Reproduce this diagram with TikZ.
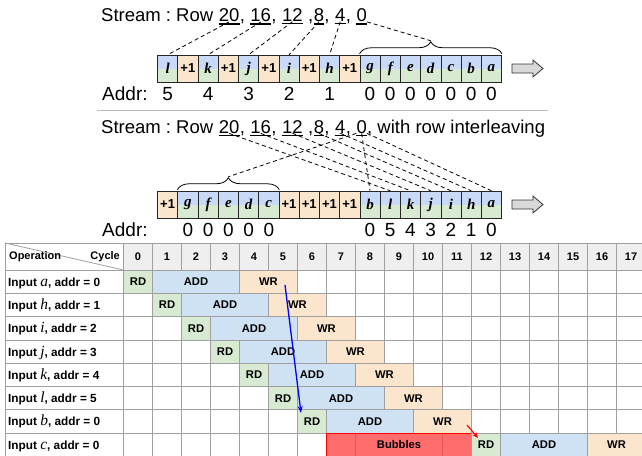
\documentclass[tikz,border=0pt]{standalone}
\usepackage{fontspec}
\setmainfont{Liberation Sans}
\newfontfamily\letterfont{Liberation Serif}
\frenchspacing
\usetikzlibrary{positioning,calc,arrows.meta,decorations.pathreplacing}
\definecolor{BoxBlue}{HTML}{C9DAF8}
\definecolor{CellBlue}{HTML}{CFE2F3}
\definecolor{CellGreen}{HTML}{D9EAD3}
\definecolor{CellOrange}{HTML}{FCE5CD}
\definecolor{HeadGray}{HTML}{EFEFEF}
\definecolor{GridGray}{HTML}{A0A0A0}
\definecolor{SepGray}{HTML}{BDBDBD}
\definecolor{BubbleRed}{HTML}{FF6D6D}
\definecolor{BubbleLine}{HTML}{E05A5A}
\definecolor{ArrowGray}{HTML}{D9D9D9}
\tikzset{
  lbox/.style={draw=black!85,fill=CellGreen,line width=0.7pt,
               minimum width=20.24pt,minimum height=26.8pt,inner sep=0pt,
               font=\letterfont\bfseries\itshape\fontsize{15}{15}\selectfont,
               path picture={\fill[BoxBlue] (path picture bounding box.north west)
                             rectangle (path picture bounding box.east);}},
  pbox/.style={draw=black!85,fill=CellOrange,line width=0.7pt,
               minimum width=20.24pt,minimum height=26.8pt,inner sep=0pt,
               font=\bfseries\fontsize{13}{13}\selectfont},
  strtxt/.style={inner sep=0pt,anchor=base west,font=\fontsize{18.5}{20}\selectfont},
  addrtxt/.style={inner sep=0pt,anchor=base west,font=\fontsize{19}{21}\selectfont},
  addrnum/.style={inner sep=0pt,anchor=base,font=\fontsize{19}{21}\selectfont},
  uline/.style={line width=1.3pt},
  dashln/.style={dash pattern=on 4pt off 3pt,line width=0.8pt},
  bracedec/.style={decorate,decoration={brace,amplitude=12pt,raise=1pt},line width=0.8pt},
  blockarr/.style={draw=black!80,fill=ArrowGray,line width=0.8pt},
  cell/.style={draw=GridGray,line width=0.8pt,minimum height=23.3pt,inner sep=0pt,
               font=\bfseries\fontsize{11.2}{13}\selectfont},
  rdcell/.style={cell,fill=CellGreen,minimum width=29pt},
  addcell/.style={cell,fill=CellBlue,minimum width=87pt},
  wrcell/.style={cell,fill=CellOrange,minimum width=58pt},
  bubcell/.style={cell,draw=red,fill=BubbleRed,line width=1pt,minimum width=145pt},
  headnum/.style={inner sep=0pt,font=\bfseries\fontsize{11}{13}\selectfont},
  rowlab/.style={inner sep=0pt,anchor=base west,font=\bfseries\fontsize{11.8}{13}\selectfont},
  gridln/.style={draw=GridGray,line width=0.8pt},
}
\newcommand{\rowletter}[1]{{\letterfont\mdseries\itshape\fontsize{15.5}{15}\selectfont #1}}

\begin{document}
\begin{tikzpicture}[x=1pt,y=-1pt]
    \useasboundingbox (0,0) rectangle (642,455);

    % Top stream
    \node[strtxt] (s1) at (101,21.5) {Stream : Row\ \null};
    \node[strtxt] (t20) at (s1.base east) {20};
    \node[strtxt] (s2) at (t20.base east) {,\ \null};
    \node[strtxt] (t16) at (s2.base east) {16};
    \node[strtxt] (s3) at (t16.base east) {,\ \null};
    \node[strtxt] (t12) at (s3.base east) {12};
    \node[strtxt] (s4) at (t12.base east) {\ ,};
    \node[strtxt] (t8) at (s4.base east) {8};
    \node[strtxt] (s5) at (t8.base east) {,\ \null};
    \node[strtxt] (t4) at (s5.base east) {4};
    \node[strtxt] (s6) at (t4.base east) {,\ \null};
    \node[strtxt] (t0) at (s6.base east) {0};

    \foreach \nm/\lab/\sty [count=\i] in {tl/l/lbox,tp1/+1/pbox,tk/k/lbox,tp2/+1/pbox,
        tj/j/lbox,tp3/+1/pbox,ti/i/lbox,tp4/+1/pbox,th/h/lbox,tp5/+1/pbox,
        tg/g/lbox,tf/f/lbox,te/e/lbox,td/d/lbox,tc/c/lbox,tb/b/lbox,ta/a/lbox}
        \node[\sty] (\nm) at ({157.5+20.24*(\i-0.5)},68.5) {\lab};

    \node[addrtxt] (addrA) at (102,100) {Addr:};
    \foreach \nm/\v in {tl/5,tk/4,tj/3,ti/2,th/1,tg/0,tf/0,te/0,td/0,tc/0,tb/0,ta/0}
        \node[addrnum] (n\nm) at (\nm.center |- addrA.base) {\v};

    \draw[bracedec] (tg.north west) -- (ta.north east);
    \coordinate (topTip) at ($(tg.north west)!0.5!(ta.north east)+(0,-14)$);
    \coordinate (arrTop) at ([xshift=10pt]ta.east);
    \draw[blockarr] (arrTop) ++(0,-4.5) -- ++(21,0) -- ++(0,-4) -- ++(10,8.5)
        -- ++(-10,8.5) -- ++(0,-4) -- ++(-21,0) -- cycle;

    \foreach \n in {t20,t16,t12,t8,t4,t0}
        \draw[uline] ([yshift=-2pt]\n.south west) -- ([yshift=-2pt]\n.south east);
    \draw[dashln] (t20.south) -- (tl.north);
    \draw[dashln] (t16.south) -- (tk.north);
    \draw[dashln] (t12.south) -- (tj.north);
    \draw[dashln] (t8.south) -- (ti.north);
    \draw[dashln] (t4.south) -- (th.north);
    \draw[dashln] (t0.south east) -- (topTip);

    \draw[SepGray,line width=1.5pt] (97,110.5) -- (548,110.5);

    % Stream with row interleaving
    \node[strtxt] (r1) at (101,133) {Stream : Row\ \null};
    \node[strtxt] (m20) at (r1.base east) {20};
    \node[strtxt] (r2) at (m20.base east) {,\ \null};
    \node[strtxt] (m16) at (r2.base east) {16};
    \node[strtxt] (r3) at (m16.base east) {,\ \null};
    \node[strtxt] (m12) at (r3.base east) {12};
    \node[strtxt] (r4) at (m12.base east) {\ ,};
    \node[strtxt] (m8) at (r4.base east) {8};
    \node[strtxt] (r5) at (m8.base east) {,\ \null};
    \node[strtxt] (m4) at (r5.base east) {4};
    \node[strtxt] (r6) at (m4.base east) {,\ \null};
    \node[strtxt] (m0) at (r6.base east) {0};
    \node[strtxt] (r7) at (m0.base east) {, with row interleaving};

    \foreach \nm/\lab/\sty [count=\i] in {mp1/+1/pbox,mg/g/lbox,mf/f/lbox,me/e/lbox,
        md/d/lbox,mc/c/lbox,mp2/+1/pbox,mp3/+1/pbox,mp4/+1/pbox,mp5/+1/pbox,
        mb/b/lbox,ml/l/lbox,mk/k/lbox,mj/j/lbox,mi/i/lbox,mh/h/lbox,ma/a/lbox}
        \node[\sty] (\nm) at ({157.5+20.24*(\i-0.5)},204.5) {\lab};

    \node[addrtxt] (addrB) at (102,236) {Addr:};
    \foreach \nm/\v in {mg/0,mf/0,me/0,md/0,mc/0,mb/0,ml/5,mk/4,mj/3,mi/2,mh/1,ma/0}
        \node[addrnum] (n\nm) at (\nm.center |- addrB.base) {\v};

    \draw[bracedec] (mg.north west) -- (mc.north east);
    \coordinate (midTip) at ($(mg.north west)!0.5!(mc.north east)+(0,-14)$);
    \coordinate (arrMid) at ([xshift=10pt]ma.east);
    \draw[blockarr] (arrMid) ++(0,-4.5) -- ++(21,0) -- ++(0,-4) -- ++(10,8.5)
        -- ++(-10,8.5) -- ++(0,-4) -- ++(-21,0) -- cycle;

    \foreach \n in {m20,m16,m12,m8,m4,m0}
        \draw[uline] ([yshift=-2pt]\n.south west) -- ([yshift=-2pt]\n.south east);
    \draw[dashln] (m20.south) -- (ml.north);
    \draw[dashln] (m16.south) -- (mk.north);
    \draw[dashln] (m12.south) -- (mj.north);
    \draw[dashln] (m8.south) -- (mi.north);
    \draw[dashln] (m4.south) -- (mh.north);
    \draw[dashln] (m0.south east) -- (ma.north);
    \draw[dashln] (m0.south) -- (mb.north);
    \draw[dashln] (m0.south west) -- (midTip);

    % Pipeline table
    \fill[HeadGray] (123.5,243) rectangle (648,270);
    \foreach \c in {0,...,18}
        \draw[gridln] ({123.5+29*\c},243) -- ({123.5+29*\c},460);
    \draw[gridln] (5,243) -- (5,460);
    \draw[gridln] (5,243) -- (648,243);
    \foreach \r in {0,...,8}
        \draw[gridln] (5,{270+23.3*\r}) -- (648,{270+23.3*\r});
    \draw[gridln] (5,243) -- (123.5,270);
    \node[headnum,anchor=west] (hop) at (9,256.5) {Operation};
    \node[headnum,anchor=east] (hcy) at (120,256.5) {Cycle};
    \foreach \c in {0,...,17}
        \node[headnum] (hd\c) at ({123.5+29*(\c+0.5)},256.5) {\c};

    \foreach \lt/\ad [count=\r from 0] in {a/0,h/1,i/2,j/3,k/4,l/5,b/0,c/0}
        \node[rowlab] (lab\r) at (8,{270+23.3*(\r+0.5)+4.5}) {Input \rowletter{\lt}, addr = \ad};

    \foreach \r in {0,...,6} {
        \node[rdcell] (rd\r) at ({123.5+29*(\r+0.5)},{270+23.3*(\r+0.5)}) {RD};
        \node[addcell] (add\r) at ({123.5+29*(\r+2.5)},{270+23.3*(\r+0.5)}) {ADD};
        \node[wrcell] (wr\r) at ({123.5+29*(\r+5)},{270+23.3*(\r+0.5)}) {WR};
    }
    \node[bubcell] (bub) at (399,{270+23.3*7.5}) {Bubbles};
    \draw[BubbleLine,line width=0.8pt] (355.5,{270+23.3*7+1}) -- (355.5,460);
    \draw[BubbleLine,line width=0.8pt] (442.5,{270+23.3*7+1}) -- (442.5,460);
    \node[rdcell] (rd7) at ({123.5+29*12.5},{270+23.3*7.5}) {RD};
    \node[addcell] (add7) at ({123.5+29*14.5},{270+23.3*7.5}) {ADD};
    \node[wrcell] (wr7) at ({123.5+29*17},{270+23.3*7.5}) {WR};

    % Edges
    \coordinate (blueS) at (285,285);
    \coordinate (blueE) at (301,413);
    \draw[-{Stealth[length=7pt,width=5pt]},blue,line width=1.3pt] (blueS) -- (blueE);
    \coordinate (redS) at (467,425);
    \coordinate (redE) at (478,438);
    \draw[-{Stealth[length=6pt,width=5pt]},red,line width=1.1pt] (redS) -- (redE);
\end{tikzpicture}
\end{document}
